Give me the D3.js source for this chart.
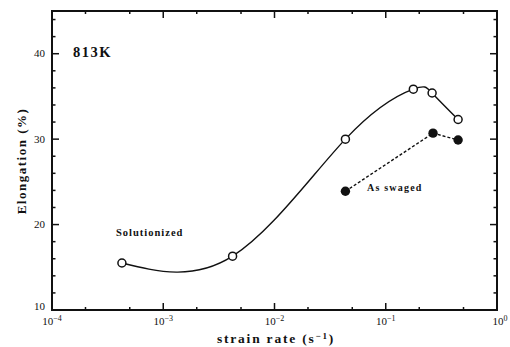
<!DOCTYPE html>
<html>
<head>
<meta charset="utf-8">
<script src="https://cdn.jsdelivr.net/npm/d3@7"></script>
<style>
  html, body { margin: 0; padding: 0; background: #fff; }
  svg { display: block; }
  text { font-family: "Liberation Serif", "DejaVu Serif", serif; fill: #111; }
</style>
</head>
<body>
<svg id="chart" width="510" height="347"></svg>
<script>
// Elongation vs strain rate at 813 K
const solRate   = [4.25e-4, 4.2e-3, 0.0434, 0.177, 0.261, 0.447];
const solElong  = [15.5, 16.3, 30.0, 35.85, 35.4, 32.3];
const swRate    = [0.0434, 0.266, 0.447];
const swElong   = [23.9, 30.7, 29.9];
const xMajorExp = [-4, -3, -2, -1, 0];
const yMajor    = [10, 20, 30, 40];

const svg = d3.select("#chart");
const x = d3.scaleLog().domain([1e-4, 1]).range([52, 497]);
const y = d3.scaleLinear().domain([10, 45]).range([310, 11]);

const ink = "#111";

// minor x ticks at 2 and 5 of each decade
const xMinor = [];
for (let e = -4; e < 0; e++) { xMinor.push(2 * 10 ** e, 5 * 10 ** e); }
const xMajor = xMajorExp.map(e => 10 ** e);
const yMinor = d3.range(12, 45, 2).filter(v => v % 10 !== 0);

const g = svg.append("g");

// frame
g.append("rect")
  .attr("x", x.range()[0]).attr("y", y.range()[1])
  .attr("width", x.range()[1] - x.range()[0])
  .attr("height", y.range()[0] - y.range()[1])
  .attr("fill", "none").attr("stroke", ink).attr("stroke-width", 2);

// inward ticks on all four sides
function xTicks(vals, len) {
  vals.forEach(v => {
    g.append("line").attr("x1", x(v)).attr("x2", x(v))
      .attr("y1", y.range()[0]).attr("y2", y.range()[0] - len)
      .attr("stroke", ink).attr("stroke-width", 1.5);
    g.append("line").attr("x1", x(v)).attr("x2", x(v))
      .attr("y1", y.range()[1]).attr("y2", y.range()[1] + len)
      .attr("stroke", ink).attr("stroke-width", 1.5);
  });
}
function yTicks(vals, len) {
  vals.forEach(v => {
    g.append("line").attr("x1", x.range()[0]).attr("x2", x.range()[0] + len)
      .attr("y1", y(v)).attr("y2", y(v))
      .attr("stroke", ink).attr("stroke-width", 1.5);
    g.append("line").attr("x1", x.range()[1]).attr("x2", x.range()[1] - len)
      .attr("y1", y(v)).attr("y2", y(v))
      .attr("stroke", ink).attr("stroke-width", 1.5);
  });
}
xTicks(xMajor.slice(1, -1), 7);
xTicks(xMinor, 3);
yTicks(yMajor.slice(1), 7);
yTicks(yMinor, 3.5);

// y tick labels
yMajor.forEach(v => {
  g.append("text").attr("x", 45).attr("y", y(v) + (v === 10 ? 0 : 3.5))
    .attr("text-anchor", "end").attr("font-size", 11).text(v);
});

// x tick labels: 10^e
xMajorExp.forEach(e => {
  const t = g.append("text").attr("x", x(10 ** e) + (e === 0 ? 3 : 0)).attr("y", 325)
    .attr("text-anchor", "middle").attr("font-size", 11);
  t.append("tspan").text("10");
  t.append("tspan").attr("dy", -4).attr("font-size", 8).text(e === 0 ? "0" : "\u2212" + (-e));
});

// axis titles
svg.append("text").attr("x", 276).attr("y", 343)
  .attr("text-anchor", "middle").attr("font-size", 13.5).attr("font-weight", "bold")
  .attr("letter-spacing", 1.8)
  .call(t => {
    t.append("tspan").text("strain rate  (s");
    t.append("tspan").attr("dy", -4).attr("font-size", 9).text("\u22121");
    t.append("tspan").attr("dy", 4).text(")");
  });

svg.append("text")
  .attr("transform", "translate(26,161) rotate(-90)")
  .attr("text-anchor", "middle").attr("font-size", 13).attr("font-weight", "bold")
  .attr("letter-spacing", 1.5)
  .text("Elongation  (%)");

// solutionized: smooth curve with open circles
const sol = solRate.map((r, i) => [r, solElong[i]]);
const sw = swRate.map((r, i) => [r, swElong[i]]);

g.append("path").datum(sol)
  .attr("d", d3.line().x(d => x(d[0])).y(d => y(d[1])).curve(d3.curveNatural))
  .attr("fill", "none").attr("stroke", ink).attr("stroke-width", 1.4);

// as swaged: dashed segments with filled circles
g.append("path").datum(sw)
  .attr("d", d3.line().x(d => x(d[0])).y(d => y(d[1])))
  .attr("fill", "none").attr("stroke", ink).attr("stroke-width", 1.4)
  .attr("stroke-dasharray", "3,2");

g.selectAll("circle.sol").data(sol).join("circle")
  .attr("class", "sol").attr("cx", d => x(d[0])).attr("cy", d => y(d[1]))
  .attr("r", 4).attr("fill", "#fff").attr("stroke", ink).attr("stroke-width", 1.5);

g.selectAll("circle.sw").data(sw).join("circle")
  .attr("class", "sw").attr("cx", d => x(d[0])).attr("cy", d => y(d[1]))
  .attr("r", 4.7).attr("fill", ink);

// annotations
svg.append("text").attr("x", 73).attr("y", 57).attr("font-size", 14.5)
  .attr("font-weight", "bold").attr("letter-spacing", 1.5).text("813K");
svg.append("text").attr("x", 116).attr("y", 236).attr("font-size", 10.5)
  .attr("font-weight", "bold").attr("letter-spacing", 1).text("Solutionized");
svg.append("text").attr("x", 367).attr("y", 191).attr("font-size", 10)
  .attr("font-weight", "bold").attr("letter-spacing", 1.2).text("As swaged");
</script>
</body>
</html>
